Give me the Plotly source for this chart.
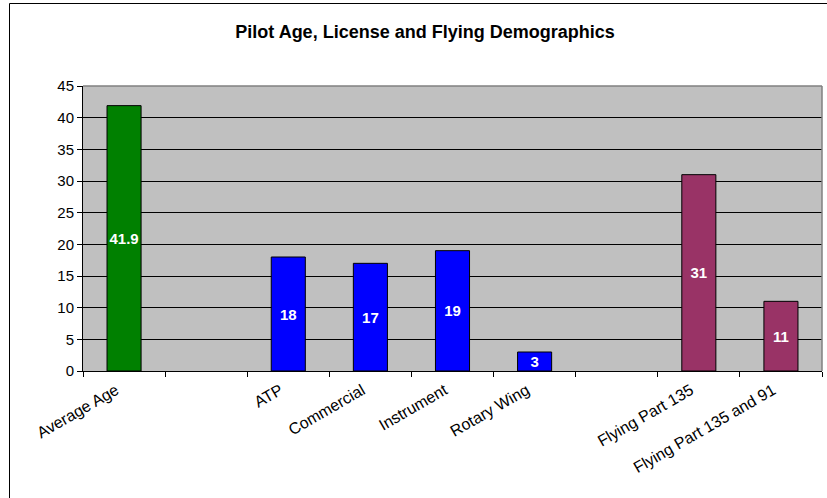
import plotly.graph_objects as go

categories = ["Average Age", " ", "ATP", "Commercial", "Instrument", "Rotary Wing", "  ",
              "Flying Part 135", "Flying Part 135 and 91"]
values = [41.9, None, 18, 17, 19, 3, None, 31, 11]
labels = ["41.9", "", "18", "17", "19", "3", "", "31", "11"]
bar_colors = ["#008000", "#008000", "#0000FF", "#0000FF", "#0000FF", "#0000FF",
              "#993366", "#993366", "#993366"]
y_ticks = [0, 5, 10, 15, 20, 25, 30, 35, 40, 45]

W, H = 827, 498
L, R, T, B = 83, 5, 86, 127
pw, ph = W - L - R, H - T - B


def px_x(p):
    return (p - L) / pw


def px_y(p):
    return (H - B - p) / ph


fig = go.Figure()
fig.add_trace(go.Bar(
    x=categories, y=values,
    marker=dict(color=bar_colors, line=dict(color="black", width=1)),
    text=labels, textposition="inside", insidetextanchor="middle",
    textangle=0, constraintext="none",
    textfont=dict(family="Liberation Sans, Arial", size=15, color="white", weight="bold"),
    hoverinfo="x+y",
))

fig.update_layout(
    width=W, height=H,
    margin=dict(l=L, r=R, t=T, b=B, autoexpand=False),
    paper_bgcolor="white",
    plot_bgcolor="#C0C0C0",
    bargap=0.585,
    showlegend=False,
    font=dict(family="Liberation Sans, Arial", color="black", size=15),
    title=dict(text="<b>Pilot Age, License and Flying Demographics</b>",
               x=425 / W, xanchor="center", xref="container",
               y=1 - 32 / H, yanchor="middle", yref="container",
               font=dict(size=18, family="Liberation Sans, Arial", color="black")),
    xaxis=dict(type="category", categoryorder="array", categoryarray=categories,
               tickson="boundaries", ticks="outside", ticklen=5, tickcolor="black",
               tickangle=-30, tickfont=dict(size=16), ticklabelshift=-8,
               ticklabelstandoff=3,
               showline=True, linecolor="black", linewidth=1,
               showgrid=False, zeroline=False, fixedrange=True),
    yaxis=dict(range=[0, 45], tickvals=y_ticks, ticks="outside", ticklen=5,
               tickcolor="black", tickfont=dict(size=15),
               showline=True, linecolor="black", linewidth=1,
               showgrid=True, gridcolor="black", gridwidth=1,
               zeroline=False, fixedrange=True),
)

# plot area border (top/right grey)
fig.add_shape(type="line", xref="paper", yref="paper", x0=0, x1=1, y0=1, y1=1,
              line=dict(color="#808080", width=1.5), layer="above")
fig.add_shape(type="line", xref="paper", yref="paper", x0=1, x1=1, y0=0, y1=1,
              line=dict(color="#808080", width=1.5), layer="above")

# outer chart border
fig.add_shape(type="rect", xref="paper", yref="paper",
              x0=px_x(9.5), x1=px_x(840), y0=px_y(3.5), y1=px_y(510),
              line=dict(color="black", width=1), fillcolor="rgba(0,0,0,0)", layer="above")

fig.write_html("out.html", config={"displayModeBar": False},
               post_script="document.body.style.margin='0';document.body.style.overflow='hidden';")
